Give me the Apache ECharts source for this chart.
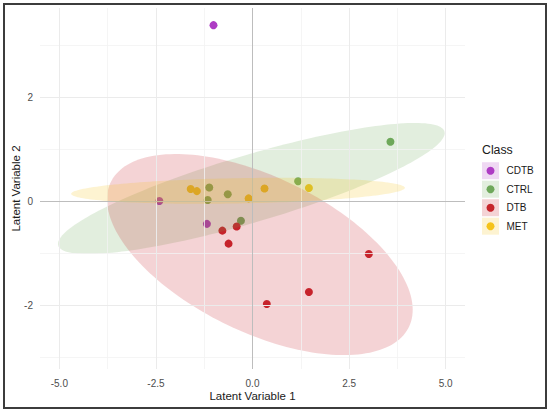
<!DOCTYPE html>
<html><head><meta charset="utf-8">
<script src="https://cdn.jsdelivr.net/npm/echarts@6/dist/echarts.min.js"></script>
<style>html,body{margin:0;padding:0;background:#fff;}#c{width:550px;height:414px;}</style>
</head><body><div id="c"></div>
<script>
// ---- data ----
const classes = ['CDTB', 'CTRL', 'DTB', 'MET'];
const cdtbX = [-1.01, -2.41, -1.18];
const cdtbY = [3.39, 0.01, -0.43];
const ctrlX = [-1.12, -0.64, -1.16, -0.30, 3.57, 1.18];
const ctrlY = [0.27, 0.14, 0.03, -0.37, 1.15, 0.39];
const dtbX = [-0.78, -0.41, -0.62, 0.37, 1.46, 3.01];
const dtbY = [-0.56, -0.48, -0.81, -1.97, -1.74, -1.01];
const metX = [-1.60, -1.44, -0.10, 0.31, 1.46];
const metY = [0.24, 0.20, 0.06, 0.25, 0.26];
// 95% ellipses (center and spread in data units)
const ellipseClasses = ['CTRL', 'DTB', 'MET'];
const ellipseCenterX = [-0.03, 0.19, -0.375];
const ellipseCenterY = [0.25, -1.02, 0.206];
const ellipseVarX = [25.04, 15.65, 18.65];
const ellipseVarY = [1.587, 3.735, 0.0625];
const ellipseCovXY = [5.326, -4.2, 0.249];
// axes
const xTickLabels = [-5, -2.5, 0, 2.5, 5];
const xMinorTicks = [-3.75, -1.25, 1.25, 3.75];
const yTickLabels = [-2, 0, 2];
const yMinorTicks = [-3, -1, 1, 3];
const xRange = [-5.5, 5.5];
const yRange = [-3.22, 3.72];
const xTitle = 'Latent Variable 1';
const yTitle = 'Latent Variable 2';
const legendTitle = 'Class';

// ---- styles ----
const FONT = '"Liberation Sans", Arial, sans-serif';
const colorOf = { CDTB: '#AE3CC4', CTRL: '#6FA85B', DTB: '#C6242B', MET: '#F5C31A' };
function rgba(hex, a) {
  const n = parseInt(hex.slice(1), 16);
  return 'rgba(' + ((n >> 16) & 255) + ',' + ((n >> 8) & 255) + ',' + (n & 255) + ',' + a + ')';
}
const pointData = {
  CDTB: cdtbX.map((x, i) => [x, cdtbY[i]]),
  CTRL: ctrlX.map((x, i) => [x, ctrlY[i]]),
  DTB: dtbX.map((x, i) => [x, dtbY[i]]),
  MET: metX.map((x, i) => [x, metY[i]])
};

const series = [];
// gridlines
series.push({
  type: 'custom', name: 'grid', silent: true, z: 1, data: [[0, 0]],
  renderItem: () => ({ type: 'group', children: [] }),
  markLine: {
    silent: true, symbol: ['none', 'none'], label: { show: false }, animation: false,
    emphasis: { disabled: true },
    data: [
      ...xMinorTicks.map(v => ({ xAxis: v, lineStyle: { color: '#F2F2F2', width: 0.8, type: 'solid' } })),
      ...yMinorTicks.map(v => ({ yAxis: v, lineStyle: { color: '#F2F2F2', width: 0.8, type: 'solid' } })),
      ...xTickLabels.map(v => ({ xAxis: v, lineStyle: { color: '#EBEBEB', width: 1, type: 'solid' } })),
      ...yTickLabels.map(v => ({ yAxis: v, lineStyle: { color: '#EBEBEB', width: 1, type: 'solid' } }))
    ]
  }
});
// points
classes.forEach(c => {
  series.push({
    type: 'scatter', name: c, data: pointData[c], symbol: 'circle', symbolSize: 8, z: 2,
    itemStyle: { color: colorOf[c], opacity: 1 }, silent: true
  });
});
// ellipses
ellipseClasses.forEach((c, i) => {
  series.push({
    type: 'custom', name: c + ' ellipse', coordinateSystem: 'cartesian2d', silent: true, z: 3 + i,
    data: [[ellipseCenterX[i], ellipseCenterY[i]]],
    renderItem: (params, api) => {
      const cx = api.value(0), cy = api.value(1);
      const l11 = Math.sqrt(ellipseVarX[i]);
      const l21 = ellipseCovXY[i] / l11;
      const l22 = Math.sqrt(ellipseVarY[i] - l21 * l21);
      const pts = [];
      for (let k = 0; k < 180; k++) {
        const t = 2 * Math.PI * k / 180;
        pts.push(api.coord([cx + l11 * Math.cos(t), cy + l21 * Math.cos(t) + l22 * Math.sin(t)]));
      }
      return { type: 'polygon', shape: { points: pts }, style: { fill: rgba(colorOf[c], 0.2), stroke: null } };
    }
  });
});
// zero reference lines
series.push({
  type: 'custom', name: 'zero', silent: true, z: 10, data: [[0, 0]],
  renderItem: () => ({ type: 'group', children: [] }),
  markLine: {
    silent: true, symbol: ['none', 'none'], label: { show: false }, animation: false,
    emphasis: { disabled: true },
    lineStyle: { color: '#BDBDBD', width: 1, type: 'solid' },
    data: [{ xAxis: 0 }, { yAxis: 0 }]
  }
});

// legend (drawn as graphic elements)
const legendEls = [{
  type: 'text', left: 482, top: 144,
  style: { text: legendTitle, fill: '#1A1A1A', font: '12.3px ' + FONT }
}];
classes.forEach((c, i) => {
  const cy = 170.7 + i * 18.5;
  legendEls.push({ type: 'rect', shape: { x: 482, y: cy - 8.5, width: 17, height: 17 }, style: { fill: rgba(colorOf[c], 0.2) } });
  legendEls.push({ type: 'circle', shape: { cx: 490.5, cy: cy, r: 4 }, style: { fill: colorOf[c] } });
  legendEls.push({ type: 'text', x: 506.5, y: cy, style: { text: c, fill: '#1A1A1A', font: '10px ' + FONT, verticalAlign: 'middle', align: 'left' } });
});
legendEls.push({ type: 'rect', shape: { x: 4, y: 4, width: 542, height: 404 }, style: { fill: 'none', stroke: '#3C3C3C', lineWidth: 2 }, z: 100 });

const chart = echarts.init(document.getElementById('c'), null, { renderer: 'svg' });
chart.setOption({
  animation: false,
  backgroundColor: '#fff',
  grid: { left: 40, right: 85, top: 8, bottom: 45, containLabel: false, outerBoundsMode: 'none' },
  xAxis: {
    type: 'value', min: xRange[0], max: xRange[1],
    axisLine: { show: false }, axisTick: { show: false }, splitLine: { show: false },
    axisLabel: { customValues: xTickLabels, formatter: v => v.toFixed(1), color: '#4D4D4D', fontSize: 10, fontFamily: FONT, margin: 9 },
    name: xTitle, nameLocation: 'middle', nameGap: 21, nameMoveOverlap: false,
    nameTextStyle: { color: '#1A1A1A', fontSize: 11.5, fontFamily: FONT }
  },
  yAxis: {
    type: 'value', min: yRange[0], max: yRange[1],
    axisLine: { show: false }, axisTick: { show: false }, splitLine: { show: false },
    axisLabel: { customValues: yTickLabels, formatter: v => String(v), color: '#4D4D4D', fontSize: 10, fontFamily: FONT, margin: 7 },
    name: yTitle, nameLocation: 'middle', nameGap: 18, nameMoveOverlap: false,
    nameTextStyle: { color: '#1A1A1A', fontSize: 11.5, fontFamily: FONT }
  },
  graphic: legendEls,
  series: series
});
</script></body></html>
